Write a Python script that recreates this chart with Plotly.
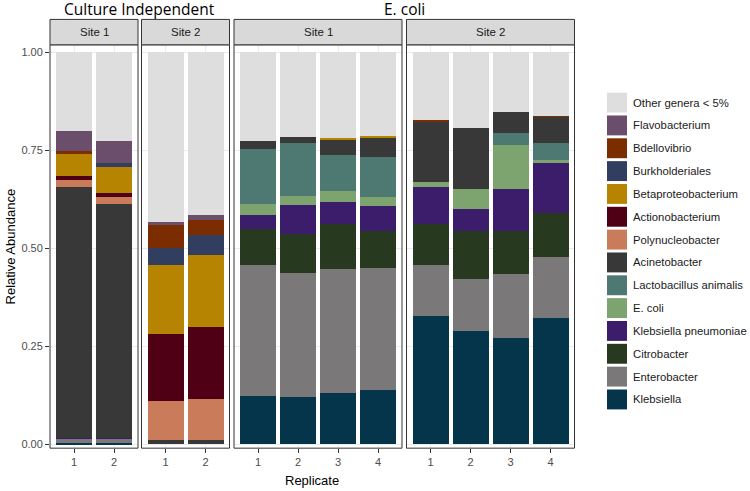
import plotly.graph_objects as go

# genera, top of legend first (stacking is bottom-up, so reversed when drawn)
genera = ["Other genera < 5%", "Flavobacterium", "Bdellovibrio", "Burkholderiales",
          "Betaproteobacterium", "Actionobacterium", "Polynucleobacter", "Acinetobacter",
          "Lactobacillus animalis", "E. coli", "Klebsiella pneumoniae", "Citrobacter",
          "Enterobacter", "Klebsiella"]
colors = ["#DEDEDE", "#6B4E6B", "#7B2D00", "#313E5F", "#B68400", "#500015", "#C97B5A",
          "#383838", "#4E7872", "#7DA36F", "#3B1D6B", "#27391F", "#7A7878", "#04354B"]

# panels: (group title, site label, replicates)
panels = [("Culture Independent", "Site 1", [1, 2]),
          ("Culture Independent", "Site 2", [1, 2]),
          ("E. coli", "Site 1", [1, 2, 3, 4]),
          ("E. coli", "Site 2", [1, 2, 3, 4])]

# relative abundance per panel, one value per replicate
ci_s1 = {"Klebsiella": [0.004, 0.003], "Enterobacter": [0.011, 0.012],
         "Klebsiella pneumoniae": [0.002, 0.001], "Acinetobacter": [0.640, 0.597],
         "Polynucleobacter": [0.016, 0.017], "Actionobacterium": [0.010, 0.010],
         "Betaproteobacterium": [0.058, 0.066], "Burkholderiales": [0.0, 0.012],
         "Bdellovibrio": [0.008, 0.0], "Flavobacterium": [0.049, 0.056],
         "Other genera < 5%": [0.202, 0.226]}
ci_s2 = {"Acinetobacter": [0.011, 0.011], "Polynucleobacter": [0.099, 0.104],
         "Actionobacterium": [0.171, 0.183], "Betaproteobacterium": [0.175, 0.184],
         "Burkholderiales": [0.045, 0.051], "Bdellovibrio": [0.057, 0.038],
         "Flavobacterium": [0.009, 0.015], "Other genera < 5%": [0.433, 0.414]}
ec_s1 = {"Klebsiella": [0.123, 0.120, 0.130, 0.138],
         "Enterobacter": [0.335, 0.318, 0.318, 0.312],
         "Citrobacter": [0.092, 0.099, 0.114, 0.093],
         "Klebsiella pneumoniae": [0.036, 0.074, 0.055, 0.064],
         "E. coli": [0.026, 0.022, 0.029, 0.024],
         "Lactobacillus animalis": [0.141, 0.135, 0.092, 0.103],
         "Acinetobacter": [0.021, 0.016, 0.040, 0.050],
         "Betaproteobacterium": [0.0, 0.0, 0.002, 0.003],
         "Other genera < 5%": [0.226, 0.216, 0.220, 0.213]}
ec_s2 = {"Klebsiella": [0.326, 0.288, 0.272, 0.323],
         "Enterobacter": [0.132, 0.134, 0.161, 0.154],
         "Citrobacter": [0.104, 0.121, 0.112, 0.113],
         "Klebsiella pneumoniae": [0.094, 0.057, 0.106, 0.127],
         "E. coli": [0.012, 0.050, 0.113, 0.008],
         "Lactobacillus animalis": [0.0, 0.0, 0.030, 0.043],
         "Acinetobacter": [0.157, 0.158, 0.054, 0.068],
         "Bdellovibrio": [0.001, 0.0, 0.0, 0.002],
         "Other genera < 5%": [0.175, 0.192, 0.152, 0.162]}
panel_data = [ci_s1, ci_s2, ec_s1, ec_s2]

W, H = 750, 491
def fx(px): return px / W
def fy(py): return 1 - py / H

x_domains = [(50, 138), (141.5, 229.5), (234, 402), (406.5, 574.5)]
y_top, y_bot = 45, 450
strip_top = 19.5

fig = go.Figure()
for i, (grp, site, reps) in enumerate(panels):
    xa = "x" if i == 0 else f"x{i+1}"
    data = panel_data[i]
    for g, c in zip(genera[::-1], colors[::-1]):
        fig.add_trace(go.Bar(x=reps, y=data.get(g, [0.0] * len(reps)), name=g,
                             marker=dict(color=c, line=dict(width=0)), width=0.9,
                             xaxis=xa, yaxis="y", showlegend=False,
                             hovertemplate=g + ": %{y}<extra></extra>"))

layout = dict(width=W, height=H, barmode="stack", plot_bgcolor="white",
              paper_bgcolor="white", margin=dict(l=0, r=0, t=0, b=0),
              font=dict(family="Liberation Sans, Arial", color="#1A1A1A"),
              showlegend=False)

shapes = []
annotations = []
for i, (grp, site, reps) in enumerate(panels):
    key = "xaxis" if i == 0 else f"xaxis{i+1}"
    d0, d1 = x_domains[i]
    layout[key] = dict(domain=[fx(d0), fx(d1)], range=[0.4, len(reps) + 0.6],
                       anchor="y", tickvals=reps, ticktext=[str(r) for r in reps],
                       ticks="outside", ticklen=4, tickcolor="#333333",
                       tickfont=dict(size=11, color="#4D4D4D"),
                       showgrid=True, gridcolor="#EBEBEB", zeroline=False,
                       showline=False, fixedrange=True)
    # panel border
    shapes.append(dict(type="rect", xref="paper", yref="paper",
                       x0=fx(d0), x1=fx(d1), y0=fy(y_bot), y1=fy(y_top),
                       line=dict(color="#333333", width=1), layer="above"))
    # strip
    shapes.append(dict(type="rect", xref="paper", yref="paper",
                       x0=fx(d0), x1=fx(d1), y0=fy(y_top), y1=fy(strip_top),
                       fillcolor="#D9D9D9", line=dict(color="#333333", width=1)))
    annotations.append(dict(text=site, xref="paper", yref="paper",
                            x=fx((d0 + d1) / 2), y=fy((y_top + strip_top) / 2),
                            showarrow=False, font=dict(size=11.5, color="#1A1A1A"),
                            xanchor="center", yanchor="middle"))

layout["yaxis"] = dict(domain=[fy(y_bot), fy(y_top)], range=[-0.0102, 1.019],
                       anchor="x", tickvals=[0, 0.25, 0.5, 0.75, 1.0],
                       ticktext=["0.00", "0.25", "0.50", "0.75", "1.00"],
                       ticks="outside", ticklen=4, tickcolor="#333333",
                       tickfont=dict(size=11, color="#4D4D4D"),
                       showgrid=True, gridcolor="#EBEBEB", zeroline=False,
                       showline=False, fixedrange=True)

# group titles
for title, (a, b) in [("Culture Independent", (50, 229.5)), ("E. coli", (234, 574.5))]:
    annotations.append(dict(text=title, xref="paper", yref="paper",
                            x=fx((a + b) / 2), y=fy(-4.5), showarrow=False,
                            font=dict(family="Open Sans", size=15.5, color="black"),
                            xanchor="center", yanchor="top"))
# axis titles
annotations.append(dict(text="Replicate", xref="paper", yref="paper",
                        x=fx(312), y=fy(482), showarrow=False,
                        font=dict(size=13, color="black"),
                        xanchor="center", yanchor="middle"))
annotations.append(dict(text="Relative Abundance", xref="paper", yref="paper",
                        x=fx(10), y=fy((y_top + y_bot) / 2), showarrow=False,
                        textangle=-90, font=dict(size=13, color="black"),
                        xanchor="center", yanchor="middle"))

# legend (ggplot-style keys)
key_x0, key_top, key_size, key_step = 607, 93, 20, 22.93
for j, (g, c) in enumerate(zip(genera, colors)):
    t = key_top + j * key_step
    shapes.append(dict(type="rect", xref="paper", yref="paper",
                       x0=fx(key_x0), x1=fx(key_x0 + key_size),
                       y0=fy(t + key_size), y1=fy(t),
                       fillcolor=c, line=dict(width=0)))
    annotations.append(dict(text=g, xref="paper", yref="paper",
                            x=fx(key_x0 + key_size + 4), y=fy(t + key_size / 2),
                            showarrow=False, font=dict(size=11.3, color="#1A1A1A"),
                            xanchor="left", yanchor="middle"))

layout["shapes"] = shapes
layout["annotations"] = annotations
fig.update_layout(**layout)
fig.write_html("out.html", config={"displayModeBar": False},
               post_script="document.body.style.margin='0';document.body.style.overflow='hidden';")
